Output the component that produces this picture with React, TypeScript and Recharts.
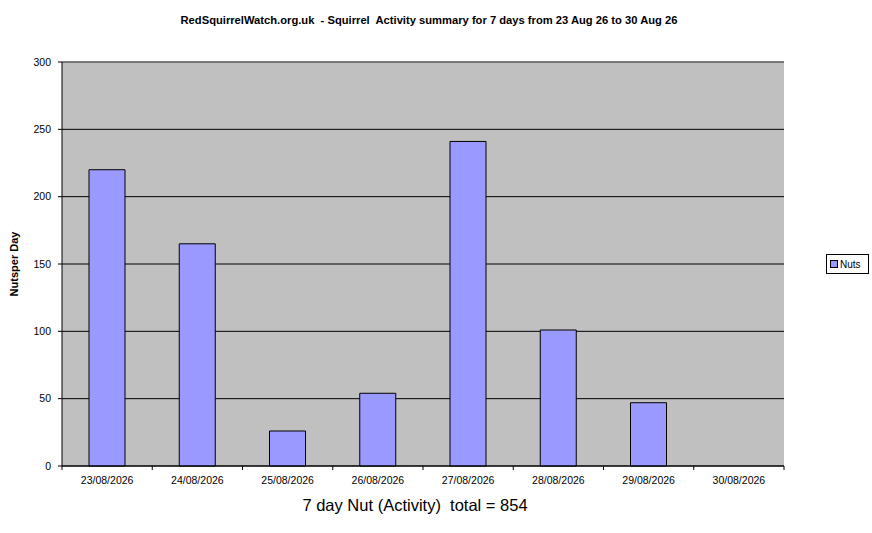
import React from "react";
import { BarChart, Bar, XAxis, YAxis, CartesianGrid, ReferenceLine, Label } from "recharts";

const categories = ["23/08/2026", "24/08/2026", "25/08/2026", "26/08/2026", "27/08/2026", "28/08/2026", "29/08/2026", "30/08/2026"];
const nuts = [220, 165, 26, 54, 241, 101, 47, 0];
const yTicks = [0, 50, 100, 150, 200, 250, 300];
const title = "RedSquirrelWatch.org.uk  - Squirrel  Activity summary for 7 days from 23 Aug 26 to 30 Aug 26";
const xTitle = "7 day Nut (Activity)  total = 854";
const yTitle = "Nutsper Day";
const seriesName = "Nuts";

const data = categories.map((c, i) => ({ date: c, nuts: nuts[i] }));

const FONT = "'Liberation Sans', Arial, sans-serif";
const PLOT_LEFT = 62;
const PLOT_RIGHT = 784;
const BAND = (PLOT_RIGHT - PLOT_LEFT) / categories.length;

const XTick = (props: any) => {
  const { x, y, payload, index } = props;
  const isLast = index === categories.length - 1;
  return (
    <g>
      <line x1={x - BAND / 2} x2={x - BAND / 2} y1={y} y2={y + 4} stroke="#000" />
      {isLast && <line x1={x + BAND / 2} x2={x + BAND / 2} y1={y} y2={y + 4} stroke="#000" />}
      <text x={x} y={y + 11} dy="0.71em" textAnchor="middle" fontSize={10.5} fontFamily={FONT} fill="#000">
        {payload.value}
      </text>
    </g>
  );
};

const XTitle = (props: any) => {
  const { viewBox } = props;
  const cx = viewBox.x + viewBox.width / 2 - 8;
  return (
    <text
      x={cx}
      y={511}
      textAnchor="middle"
      fontSize={16.5}
      fontFamily={FONT}
      fill="#000"
      style={{ whiteSpace: "pre" }}
    >
      {xTitle}
    </text>
  );
};

export default function App() {
  return (
    <div style={{ position: "absolute", left: 0, top: 0, width: 872, height: 533, background: "#fff" }}>
      <div
        style={{
          position: "absolute",
          left: 0,
          top: 14,
          width: 858,
          textAlign: "center",
          fontFamily: FONT,
          fontWeight: "bold",
          fontSize: 11.2,
          whiteSpace: "pre",
          color: "#000",
        }}
      >
        {title}
      </div>
      <BarChart
        width={872}
        height={533}
        data={data}
        margin={{ top: 62, right: 872 - PLOT_RIGHT, bottom: 0, left: 0 }}
        barSize={36}
      >
        <CartesianGrid fill="#C0C0C0" vertical={false} stroke="#000" strokeOpacity={1} />
        <ReferenceLine y={300} stroke="#808080" />
        <XAxis
          dataKey="date"
          height={67}
          interval={0}
          tickLine={false}
          tickSize={0}
          tickMargin={0}
          axisLine={{ stroke: "#000" }}
          tick={<XTick />}
        >
          <Label content={<XTitle />} />
        </XAxis>
        <YAxis
          width={PLOT_LEFT}
          domain={[0, 300]}
          ticks={yTicks}
          interval={0}
          tickSize={4}
          tickMargin={7}
          tickLine={{ stroke: "#000" }}
          axisLine={{ stroke: "#000" }}
          tick={{ fontSize: 10.5, fontFamily: FONT, fill: "#000" }}
        >
          <Label
            value={yTitle}
            angle={-90}
            position="insideLeft"
            offset={14}
            style={{ fontFamily: FONT, fontSize: 11, fontWeight: "bold", fill: "#000", textAnchor: "middle" }}
          />
        </YAxis>
        <YAxis
          yAxisId="right"
          orientation="right"
          width={0}
          domain={[0, 300]}
          tick={false}
          tickLine={false}
          axisLine={{ stroke: "#808080" }}
        />
        <Bar dataKey="nuts" name={seriesName} fill="#9999FF" stroke="#000" strokeWidth={1} isAnimationActive={false} />
      </BarChart>
      <div
        style={{
          position: "absolute",
          left: 826,
          top: 254,
          width: 41,
          height: 18,
          border: "1px solid #000",
          background: "#fff",
          display: "flex",
          alignItems: "center",
          fontFamily: FONT,
          fontSize: 10,
          color: "#000",
        }}
      >
        <span
          style={{
            display: "inline-block",
            width: 6,
            height: 6,
            background: "#9999FF",
            border: "1px solid #000",
            marginLeft: 3,
            marginRight: 2,
          }}
        />
        {seriesName}
      </div>
    </div>
  );
}
